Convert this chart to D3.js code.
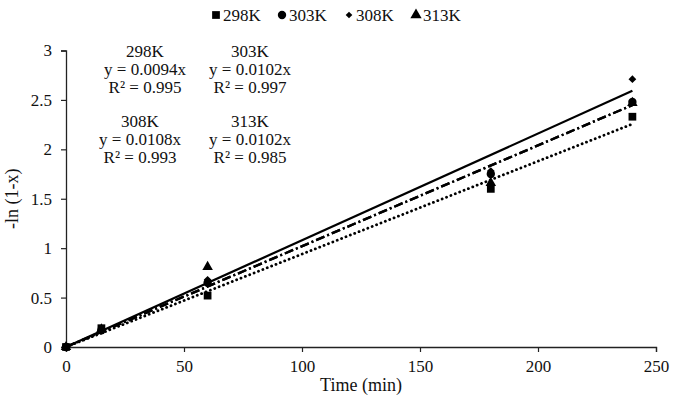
<!DOCTYPE html>
<html><head><meta charset="utf-8">
<script src="https://cdn.jsdelivr.net/npm/d3@7"></script>
<style>body{margin:0;background:#fff}svg{display:block}text{font-family:"Liberation Serif","Times New Roman",serif;fill:#111}</style>
</head><body><div id="c"></div>
<script>
const times = [0, 15, 60, 180, 240];
const seriesNames = ["298K", "303K", "308K", "313K"];
const v298 = [0, 0.19, 0.52, 1.60, 2.33];
const v303 = [0, 0.17, 0.65, 1.75, 2.48];
const v308 = [0, 0.17, 0.68, 1.78, 2.71];
const v313 = [0, 0.18, 0.81, 1.66, 2.47];
const slopes = [0.0094, 0.0102, 0.0108, 0.0102];
const r2 = [0.995, 0.997, 0.993, 0.985];
const xTicks = [0, 50, 100, 150, 200, 250];
const yTicks = [0, 0.5, 1, 1.5, 2, 2.5, 3];

const W = 675, H = 402;
const svg = d3.select("#c").append("svg").attr("width", W).attr("height", H);
const x = d3.scaleLinear().domain([0, 250]).range([66, 656]);
const y = d3.scaleLinear().domain([0, 3]).range([347, 50.5]);

const gx = svg.append("g").attr("transform", `translate(0,${y(0)})`)
  .call(d3.axisBottom(x).tickValues(xTicks).tickSize(5).tickPadding(8).tickFormat(d3.format("")));
const gy = svg.append("g").attr("transform", `translate(${x(0)},0)`)
  .call(d3.axisLeft(y).tickValues(yTicks).tickSize(5).tickPadding(9).tickFormat(d3.format("")));
[gx, gy].forEach(g => {
  g.select(".domain").attr("stroke", "#222").attr("stroke-width", 1.3);
  g.selectAll(".tick line").attr("stroke", "#222").attr("stroke-width", 1.2);
  g.selectAll("text").attr("font-size", 17).attr("font-family", "Liberation Serif").attr("fill", "#111");
});

svg.append("text").attr("x", x(125)).attr("y", 391).attr("text-anchor", "middle").attr("font-size", 18).text("Time (min)");
svg.append("text").attr("transform", `translate(18,${y(1.5)}) rotate(-90)`).attr("text-anchor", "middle").attr("font-size", 18).text("-ln (1-x)");

// trend lines
const dashes = ["0.1,4.6", "9,3,2,3", null, "9,3,2,3"];
const widths = [2.8, 2.4, 2.2, 2.4];
const caps = ["round", "butt", "butt", "butt"];
slopes.forEach((s, i) => {
  svg.append("line")
    .attr("x1", x(0)).attr("y1", y(0))
    .attr("x2", x(240)).attr("y2", y(s * 240))
    .attr("stroke", "#000").attr("stroke-width", widths[i])
    .attr("stroke-linecap", caps[i])
    .attr("stroke-dasharray", dashes[i]);
});

const symTypes = [d3.symbolSquare, d3.symbolCircle, d3.symbolSquare, d3.symbolTriangle];
const symRot = [0, 0, 45, 0];
const symSizes = [60, 55, 30, 48];
const allVals = [v298, v303, v308, v313];
allVals.forEach((vals, i) => {
  svg.append("g").selectAll("path").data(vals).join("path")
    .attr("transform", (d, j) => `translate(${x(times[j])},${y(d)}) rotate(${symRot[i]})`)
    .attr("d", d3.symbol().type(symTypes[i]).size(symSizes[i]))
    .attr("fill", "#000");
});

// legend
const legX = [216, 282, 349, 416];
const legSizes = [60, 55, 22, 55];
seriesNames.forEach((n, i) => {
  svg.append("path").attr("transform", `translate(${legX[i]},${15}) rotate(${symRot[i]})`)
    .attr("d", d3.symbol().type(symTypes[i]).size(legSizes[i])).attr("fill", "#000");
  svg.append("text").attr("x", legX[i] + 7).attr("y", 21).attr("font-size", 17).text(n);
});

// equations
const eqPos = [[145, 57], [250, 57], [140, 127], [250, 127]];
seriesNames.forEach((n, i) => {
  const [cx, cy] = eqPos[i];
  const t = svg.append("text").attr("text-anchor", "middle").attr("font-size", 17);
  t.append("tspan").attr("x", cx).attr("y", cy).text(n);
  t.append("tspan").attr("x", cx).attr("y", cy + 18).text(`y = ${slopes[i].toFixed(4)}x`);
  t.append("tspan").attr("x", cx).attr("y", cy + 36).text(`R² = ${r2[i].toFixed(3)}`);
});
</script></body></html>
